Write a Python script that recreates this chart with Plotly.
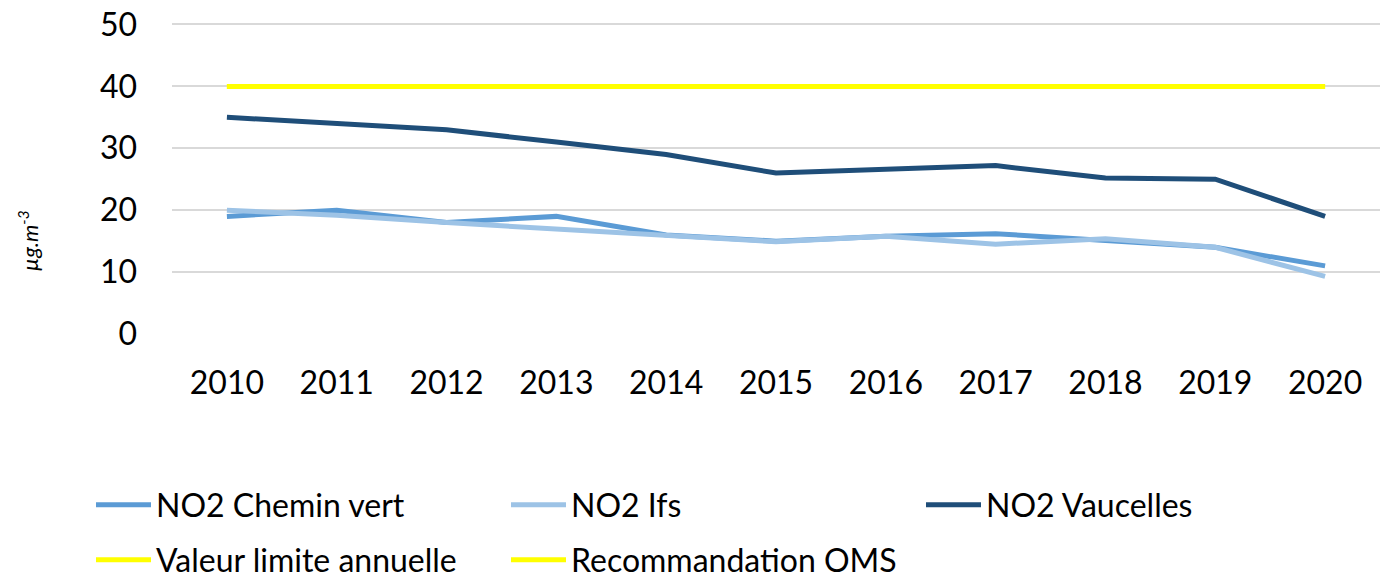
import plotly.graph_objects as go

years = ["2010", "2011", "2012", "2013", "2014", "2015", "2016", "2017", "2018", "2019", "2020"]
chemin_vert = [19, 20, 18, 19, 16, 15, 15.8, 16.2, 15.1, 14, 11]
ifs = [20, 19.2, 18, 17, 16, 14.9, 15.8, 14.5, 15.4, 14, 9.3]
vaucelles = [35, 34, 33, 31, 29, 26, 26.5, 27.2, 25.2, 25, 19]
valeur_limite = [40] * 11
oms = [40] * 11

series = [
    ("NO2 Chemin vert", chemin_vert, "#5B9BD5", "legend"),
    ("NO2 Ifs", ifs, "#9DC3E6", "legend"),
    ("NO2 Vaucelles", vaucelles, "#1F4E79", "legend"),
    ("Valeur limite annuelle", valeur_limite, "#FFFF00", "legend2"),
    ("Recommandation OMS", oms, "#FFFF00", "legend2"),
]

fig = go.Figure()
for name, vals, col, lg in series:
    fig.add_trace(go.Scatter(
        x=years, y=vals, name=name, mode="lines",
        line=dict(color=col, width=5, shape="linear"),
        legend=lg,
    ))

px_per_unit = 6.2
y_top = 50.4
zero_y = 334                     # pixel y of the 0 line
plot_h = round(y_top * px_per_unit)
plot_t = zero_y - plot_h
plot_l = 172
plot_w = 1208
fig_w = 1380
fig_h = 579

legend_common = dict(
    orientation="h", xanchor="left", yanchor="middle",
    xref="paper", yref="paper",
    font=dict(size=32, color="#000000"),
    entrywidthmode="pixels",
    itemwidth=55, bgcolor="rgba(0,0,0,0)",
)

fig.update_layout(
    width=fig_w, height=fig_h,
    margin=dict(l=plot_l, r=fig_w - plot_l - plot_w, t=plot_t, b=fig_h - plot_t - plot_h, autoexpand=False),
    paper_bgcolor="white", plot_bgcolor="white",
    font=dict(family="Lato, Carlito, sans-serif", color="#000000"),
    showlegend=True,
    legend=dict(legend_common, x=(91 - 172) / plot_w, y=(zero_y - 505) / plot_h, entrywidth=345),
    legend2=dict(legend_common, x=(91 - 172) / plot_w, y=(zero_y - 560) / plot_h, entrywidth=345),
    xaxis=dict(
        type="category", range=[-0.5, 10.5],
        showgrid=False, showline=False, zeroline=False,
        ticks="", tickfont=dict(size=32), ticklabelstandoff=27,
    ),
    yaxis=dict(
        range=[0, y_top], tickvals=[0, 10, 20, 30, 40, 50],
        showgrid=True, gridcolor="#D9D9D9", gridwidth=2,
        zeroline=False, showline=False, ticks="",
        tickfont=dict(size=32), ticklabelstandoff=34,
        ticklabeloverflow="allow",
    ),
)

fig.add_annotation(
    text="<i>µg.m<sup>-3</sup></i>", xref="paper", yref="paper",
    x=(28 - 172) / plot_w, y=(334 - 241) / (y_top * px_per_unit),
    xanchor="center", yanchor="middle",
    textangle=-90, showarrow=False, font=dict(size=22, color="#000000"),
)

fig.write_html(
    "out.html",
    config={"displayModeBar": False},
    post_script="document.body.style.margin='0';",
)
